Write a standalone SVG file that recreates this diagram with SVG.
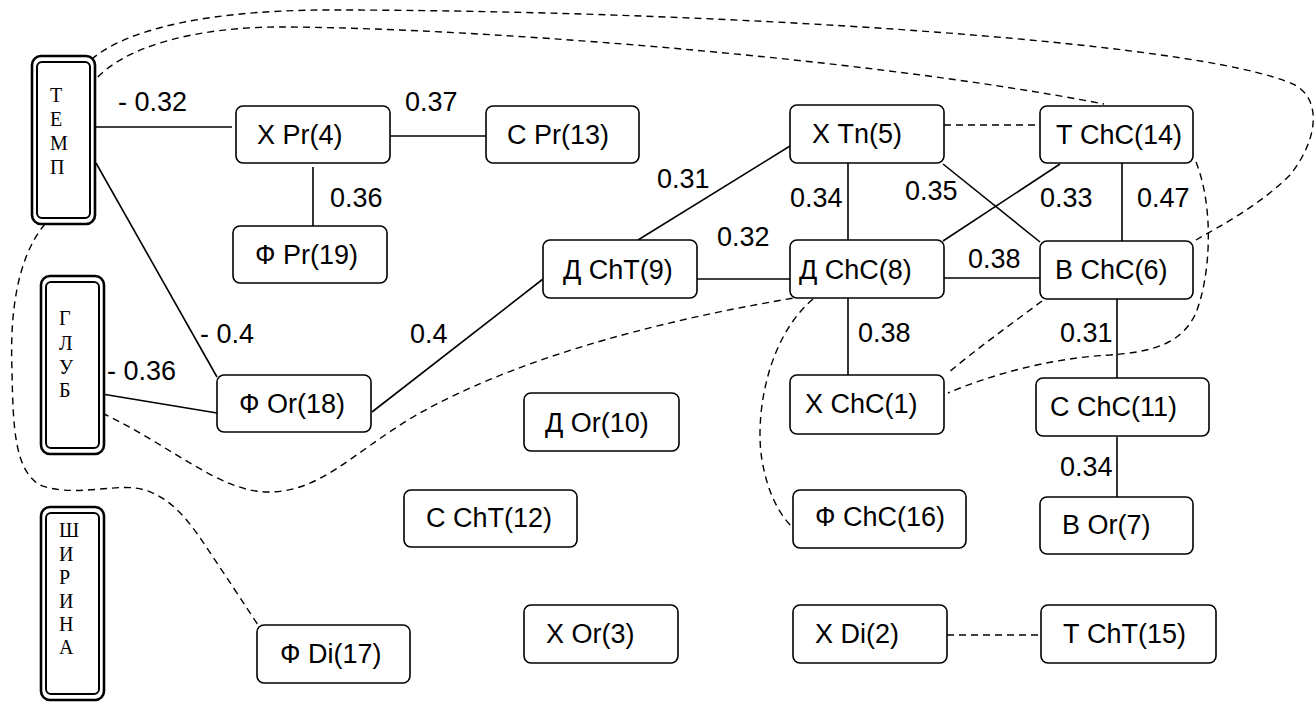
<svg xmlns="http://www.w3.org/2000/svg" width="1314" height="702" viewBox="0 0 1314 702">
<style>
.n{fill:#fff;stroke:#000;stroke-width:1.6}
.t{font-family:"Liberation Sans",Arial,sans-serif;font-size:27px;fill:#000}
.v{font-family:"Liberation Serif","Times New Roman",serif;font-size:20px;fill:#000}
.o{fill:#fff;stroke:#000;stroke-width:2.6}
.i{fill:none;stroke:#000;stroke-width:2}
.s{fill:none;stroke:#000;stroke-width:1.6}
.d{fill:none;stroke:#000;stroke-width:1.4;stroke-dasharray:7 5}
</style>
<rect width="1314" height="702" fill="#fff"/>
<g id="connectors">
<path class="s" d="M95,127H232"/>
<path class="s" d="M96,163L217,377"/>
<path class="s" d="M102,394L217,413"/>
<path class="s" d="M389,136H486"/>
<path class="s" d="M313,167V226"/>
<path class="s" d="M372,412L543,279"/>
<path class="s" d="M638,240L790,146"/>
<path class="s" d="M697,279H793"/>
<path class="s" d="M848,163V240"/>
<path class="s" d="M943,164L1040,242"/>
<path class="s" d="M943,241L1060,164"/>
<path class="s" d="M1122,163V241"/>
<path class="s" d="M944,278H1040"/>
<path class="s" d="M848,298V375"/>
<path class="s" d="M1117,297V378"/>
<path class="s" d="M1117,437V497"/>
<path class="d" d="M944,125H1040"/>
<path class="d" d="M947,635H1041"/>
<path class="d" d="M83,68C110,35 190,10 330,10C700,10 1200,40 1295,85C1322,100 1318,140 1290,175C1260,205 1222,225 1196,240"/>
<path class="d" d="M90,86C120,45 200,27 280,27C450,27 850,55 1104,104"/>
<path class="d" d="M1196,162C1215,210 1210,280 1195,315C1180,345 1150,352 1110,355C1050,358 990,375 948,393"/>
<path class="d" d="M1042,301C1010,325 975,350 948,373"/>
<path class="d" d="M813,299C765,340 755,420 762,460C768,495 780,515 793,528"/>
<path class="d" d="M102,413C170,445 220,492 268,492C320,492 350,455 413,417C480,378 600,330 800,297"/>
<path class="d" d="M45,224C15,260 10,320 12,370C13,430 15,470 40,485C70,497 110,485 135,488C165,492 185,515 205,545C225,575 245,605 258,625"/>
</g>
<g id="labels">
<text class="t" x="118" y="111">- 0.32</text>
<text class="t" x="405" y="111">0.37</text>
<text class="t" x="330" y="207">0.36</text>
<text class="t" x="657" y="188">0.31</text>
<text class="t" x="790" y="207">0.34</text>
<text class="t" x="905" y="200">0.35</text>
<text class="t" x="1040" y="207">0.33</text>
<text class="t" x="1137" y="207">0.47</text>
<text class="t" x="717" y="246">0.32</text>
<text class="t" x="968" y="268">0.38</text>
<text class="t" x="858" y="342">0.38</text>
<text class="t" x="1060" y="342">0.31</text>
<text class="t" x="1060" y="476">0.34</text>
<text class="t" x="200" y="343">- 0.4</text>
<text class="t" x="410" y="343">0.4</text>
<text class="t" x="107" y="380">- 0.36</text>
</g>
<g id="temp">
<rect class="o" x="32" y="56" width="63" height="168" rx="9"/>
<rect class="i" x="37" y="62" width="53" height="156" rx="5"/>
<text class="v" x="50" y="102">Т</text><text class="v" x="50" y="126">Е</text><text class="v" x="50" y="150">М</text><text class="v" x="50" y="174">П</text>
</g>
<g id="glub">
<rect class="o" x="41" y="276" width="63" height="178" rx="9"/>
<rect class="i" x="46" y="282" width="53" height="166" rx="5"/>
<text class="v" x="59" y="325">Г</text><text class="v" x="59" y="350">Л</text><text class="v" x="59" y="374">У</text><text class="v" x="59" y="397">Б</text>
</g>
<g id="shirina">
<rect class="o" x="41" y="507" width="63" height="193" rx="9"/>
<rect class="i" x="46" y="513" width="53" height="181" rx="5"/>
<text class="v" x="59" y="537">Ш</text><text class="v" x="59" y="561">И</text><text class="v" x="59" y="584">Р</text><text class="v" x="59" y="608">И</text><text class="v" x="59" y="631">Н</text><text class="v" x="59" y="654">А</text>
</g>
<g id="n4"><rect class="n" x="236" y="106" width="154" height="57" rx="7"/><text class="t" x="257" y="144">Х Pr(4)</text></g>
<g id="n13"><rect class="n" x="486" y="106" width="153" height="57" rx="7"/><text class="t" x="507" y="144">С Pr(13)</text></g>
<g id="n19"><rect class="n" x="233" y="226" width="154" height="57" rx="7"/><text class="t" x="255" y="264">Ф Pr(19)</text></g>
<g id="n5"><rect class="n" x="790" y="105" width="154" height="58" rx="7"/><text class="t" x="812" y="143">Х Tn(5)</text></g>
<g id="n14"><rect class="n" x="1040" y="106" width="153" height="57" rx="7"/><text class="t" x="1056" y="144">Т ChC(14)</text></g>
<g id="n9"><rect class="n" x="543" y="240" width="154" height="58" rx="7"/><text class="t" x="563" y="279">Д ChT(9)</text></g>
<g id="n8"><rect class="n" x="790" y="240" width="154" height="58" rx="7"/><text class="t" x="799" y="279">Д ChC(8)</text></g>
<g id="n6"><rect class="n" x="1040" y="241" width="153" height="58" rx="7"/><text class="t" x="1055" y="279">В ChC(6)</text></g>
<g id="n18"><rect class="n" x="217" y="375" width="154" height="57" rx="7"/><text class="t" x="239" y="413">Ф Or(18)</text></g>
<g id="n10"><rect class="n" x="524" y="393" width="155" height="58" rx="7"/><text class="t" x="545" y="432">Д Or(10)</text></g>
<g id="n1"><rect class="n" x="790" y="375" width="154" height="59" rx="7"/><text class="t" x="805" y="413">Х ChC(1)</text></g>
<g id="n11"><rect class="n" x="1036" y="378" width="173" height="58" rx="7"/><text class="t" x="1050" y="416">С ChC(11)</text></g>
<g id="n12"><rect class="n" x="404" y="490" width="173" height="57" rx="7"/><text class="t" x="426" y="527">С ChT(12)</text></g>
<g id="n16"><rect class="n" x="793" y="490" width="173" height="58" rx="7"/><text class="t" x="815" y="526">Ф ChC(16)</text></g>
<g id="n7"><rect class="n" x="1040" y="497" width="153" height="57" rx="7"/><text class="t" x="1062" y="534">В Or(7)</text></g>
<g id="n17"><rect class="n" x="257" y="625" width="153" height="58" rx="7"/><text class="t" x="280" y="663">Ф Di(17)</text></g>
<g id="n3"><rect class="n" x="524" y="605" width="154" height="58" rx="7"/><text class="t" x="546" y="643">Х Or(3)</text></g>
<g id="n2"><rect class="n" x="793" y="605" width="154" height="58" rx="7"/><text class="t" x="815" y="643">Х Di(2)</text></g>
<g id="n15"><rect class="n" x="1041" y="605" width="175" height="58" rx="7"/><text class="t" x="1063" y="643">Т ChT(15)</text></g>
</svg>
